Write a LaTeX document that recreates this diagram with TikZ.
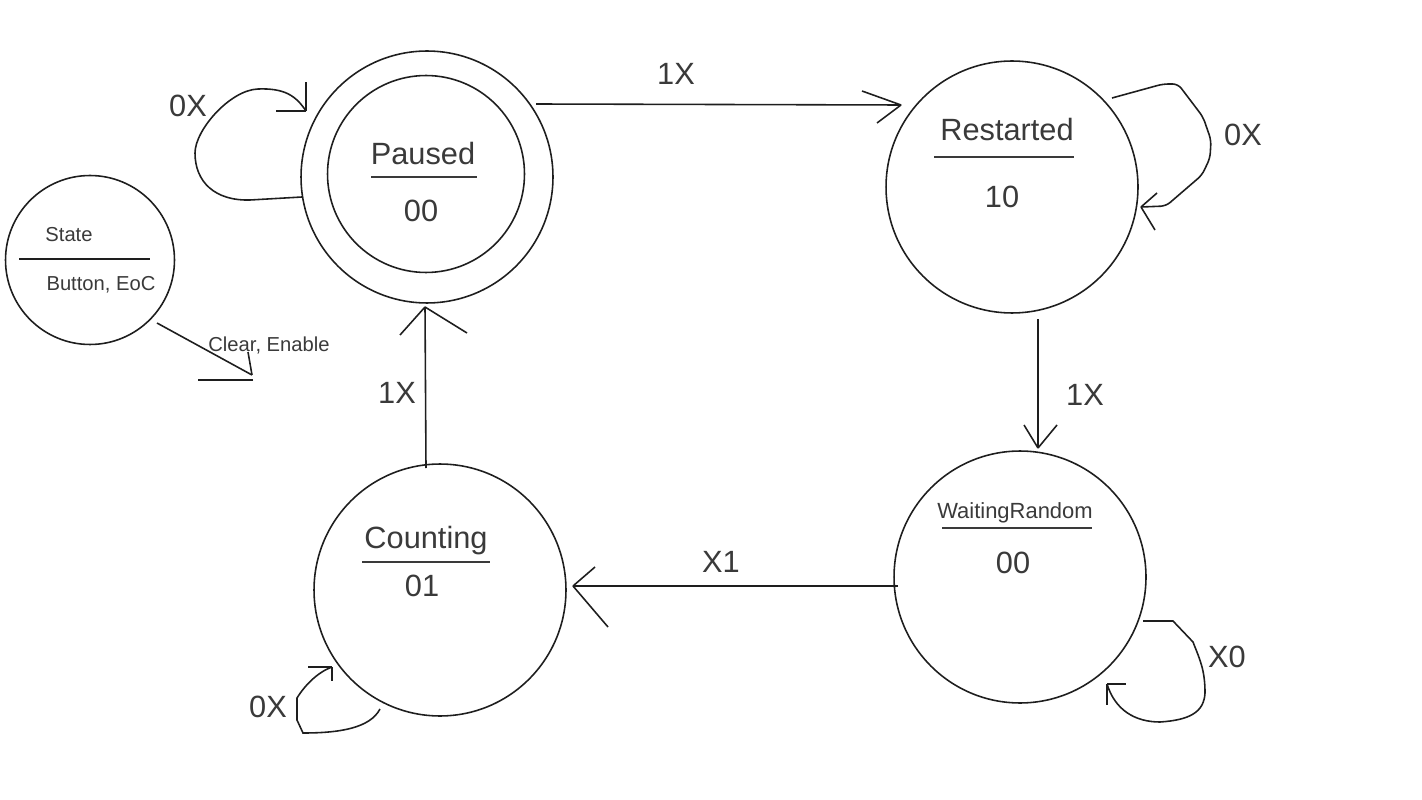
\documentclass[tikz,border=0pt]{standalone}
\usepackage{fontspec}
\setmainfont{Liberation Sans}
\usepackage{tikz}
\usetikzlibrary{arrows,shapes}
\definecolor{ink}{HTML}{3A3A3A}
\definecolor{pen}{HTML}{1E1E1E}
\tikzstyle{state}=[circle, draw=pen, line width=0.9pt
%,fill=black!25
,minimum size=5.04cm
,inner sep=0pt
]
\tikzstyle{accept state} = [state, minimum size=3.94cm]
\tikzstyle{key state} = [state, minimum size=3.38cm]
\tikzstyle{big label} = [text=ink, inner sep=0pt, anchor=base, font=\fontsize{17.5}{20}\selectfont]
\tikzstyle{mid label} = [big label, font=\fontsize{12.5}{14}\selectfont]
\tikzstyle{small label} = [big label, font=\fontsize{11.5}{13}\selectfont]
\tikzstyle{rule} = [draw=ink, line width=1.1pt]
\tikzstyle{edge} = [draw=pen, line width=0.9pt, -]

\begin{document}
\begin{tikzpicture}[x=0.02cm, y=-0.02cm]
    \useasboundingbox (0,0) rectangle (1422,800);
    % First we draw the states
    \foreach \pos/\name in {{(427,177)/Paused}, {(1012,187)/Restarted}, {(440,590)/Counting}, {(1020,577)/WaitingRandom}}
        \node[state] (\name) at \pos {};
    \node[accept state] (PausedIn) at (426,174) {};
    \node[key state] (Key) at (90,260) {};

    % State names, separator and outputs
    \foreach \name/\title/\tx/\ty/\out/\ox/\oy/\ra/\rb/\ry in {Paused/Paused/-4/-12/00/-6/45/-56/50/0, Restarted/Restarted/-5/-46/10/-10/21/-78/62/-30, Counting/Counting/-14/-42/01/-18/6/-78/50/-28}
    {
        \node[big label] (\name-title) at ([shift={(\tx,\ty)}]\name.center) {\title};
        \node[big label] (\name-out) at ([shift={(\ox,\oy)}]\name.center) {\out};
        \path[rule] ([shift={(\ra,\ry)}]\name.center) -- ([shift={(\rb,\ry)}]\name.center);
    }
    \node[mid label] (WaitingRandom-title) at ([shift={(-5,-59)}]WaitingRandom.center) {WaitingRandom};
    \node[big label] (WaitingRandom-out) at ([shift={(-7,-4)}]WaitingRandom.center) {00};
    \path[rule] ([shift={(-78,-49)}]WaitingRandom.center) -- ([shift={(72,-49)}]WaitingRandom.center);

    % Legend
    \node[small label] (Key-title) at ([shift={(-21,-18)}]Key.center) {State};
    \node[small label] (Key-in) at ([shift={(11,31)}]Key.center) {Button, EoC};
    \node[small label] (Key-out) at ([shift={(179,91)}]Key.center) {Clear, Enable};
    \path[rule, draw=pen, line width=0.9pt] ([shift={(-71,-1)}]Key.center) -- ([shift={(60,-1)}]Key.center);
    \coordinate (KeyTip) at ([shift={(162,115)}]Key.center);
    \path[edge] ([shift={(67,63)}]Key.center) -- (KeyTip);
    \path[edge] (KeyTip) -- ++(-4,-23);
    \path[edge] ([shift={(1,5)}]KeyTip) -- ++(-55,0);

    % Connect states with transitions
    \foreach \source/\sx/\sy/\dest/\dx/\dy/\ax/\ay/\bx/\by in {Paused/109/-73/Restarted/-111/-82/-39/-14/-24/18, Restarted/26/132/WaitingRandom/18/-129/-14/-23/19/-23, WaitingRandom/-122/9/Counting/133/-4/22/-19/35/41, Counting/-14/-122/Paused/-2/130/-25/28/42/26}
    {
        \coordinate (\source-\dest) at ([shift={(\dx,\dy)}]\dest.center);
        \path[edge] ([shift={(\sx,\sy)}]\source.center) -- (\source-\dest);
        \path[edge] (\source-\dest) -- ++(\ax,\ay);
        \path[edge] (\source-\dest) -- ++(\bx,\by);
    }

    % Self loops
    \coordinate (PL) at ([shift={(-121,-66)}]Paused.center);
    \path[edge] ([shift={(-125,20)}]Paused.center) -- (250,200) .. controls (215,201) and (195,182) .. (195,153)
        .. controls (195,130) and (230,90) .. (258,89) .. controls (285,88) and (296,96) .. (PL);
    \path[edge] (PL) -- ++(0,-29);
    \path[edge] (PL) -- ++(-30,0);

    \coordinate (RL) at ([shift={(129,20)}]Restarted.center);
    \path[edge, rounded corners=3pt] ([shift={(100,-89)}]Restarted.center) -- (1163,84) -- (1178,84) -- (1203,117)
        -- (1211,140) -- (1210,158) -- (1202,175) -- (1166,206) -- (RL);
    \path[edge] (RL) -- ++(16,-14);
    \path[edge] (RL) -- ++(14,23);

    \coordinate (CL) at ([shift={(-108,77)}]Counting.center);
    \path[edge] ([shift={(-60,119)}]Counting.center) .. controls (370,728) and (340,733) .. (303,733) -- (297,720)
        -- (297,698) .. controls (305,685) and (318,672) .. (CL);
    \path[edge] (CL) -- ++(-24,0);
    \path[edge] (CL) -- ++(0,14);

    \coordinate (WL) at ([shift={(87,107)}]WaitingRandom.center);
    \path[edge] ([shift={(123,44)}]WaitingRandom.center) -- (1173,621) -- (1193,642) .. controls (1200,660) and (1205,670) .. (1205,693)
        .. controls (1204,712) and (1190,720) .. (1160,722) .. controls (1135,722) and (1115,710) .. (WL);
    \path[edge] (WL) -- ++(19,0);
    \path[edge] (WL) -- ++(0,21);

    % Transition labels
    \foreach \pos/\name/\txt in {{(676,85)/lPR/1X}, {(188,117)/lPP/0X}, {(1243,146)/lRR/0X}, {(1085,405)/lRW/1X}, {(397,403)/lCP/1X}, {(721,572)/lWC/X1}, {(268,717)/lCC/0X}, {(1227,667)/lWW/X0}}
        \node[big label] (\name) at \pos {\txt};
\end{tikzpicture}
\end{document}
